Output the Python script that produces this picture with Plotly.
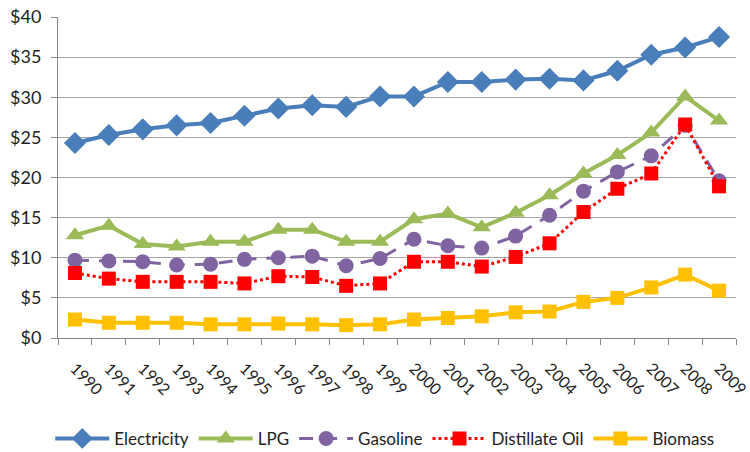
import plotly.graph_objects as go

years = [str(y) for y in range(1990, 2010)]
electricity = [24.3, 25.3, 26.0, 26.5, 26.8, 27.7, 28.6, 29.0, 28.8, 30.1, 30.1, 31.9, 31.9, 32.2, 32.3, 32.1, 33.3, 35.3, 36.2, 37.5]
lpg = [12.8, 14.0, 11.7, 11.4, 12.0, 12.0, 13.5, 13.5, 12.0, 12.0, 14.8, 15.5, 13.8, 15.6, 17.8, 20.5, 22.8, 25.6, 30.1, 27.1]
gasoline = [9.7, 9.6, 9.5, 9.1, 9.2, 9.8, 10.0, 10.2, 9.0, 9.9, 12.3, 11.5, 11.2, 12.7, 15.3, 18.3, 20.7, 22.7, 26.5, 19.6]
distillate = [8.1, 7.4, 7.0, 7.0, 7.0, 6.8, 7.7, 7.6, 6.5, 6.8, 9.5, 9.5, 8.9, 10.1, 11.8, 15.7, 18.6, 20.5, 26.6, 18.9]
biomass = [2.3, 1.9, 1.9, 1.9, 1.7, 1.7, 1.8, 1.7, 1.6, 1.7, 2.3, 2.5, 2.7, 3.2, 3.3, 4.5, 5.0, 6.3, 7.9, 5.9]
y_ticks = [0, 5, 10, 15, 20, 25, 30, 35, 40]
y_labels = ["$" + str(v) for v in y_ticks]

FONT = "Lato"
fig = go.Figure()
fig.add_trace(go.Scatter(x=years, y=electricity, name="Electricity", mode="lines+markers",
                         line=dict(color="#4A7EBB", width=4),
                         marker=dict(symbol="diamond", size=17, color="#4A7EBB")))
fig.add_trace(go.Scatter(x=years, y=lpg, name="LPG", mode="lines+markers",
                         line=dict(color="#9BBB59", width=4),
                         marker=dict(symbol="triangle-up", size=16, color="#9BBB59")))
fig.add_trace(go.Scatter(x=years, y=gasoline, name="Gasoline", mode="lines+markers",
                         line=dict(color="#8064A2", width=3, dash="14px,10px"),
                         marker=dict(symbol="circle", size=15, color="#8064A2")))
fig.add_trace(go.Scatter(x=years, y=distillate, name="Distillate Oil", mode="lines+markers",
                         line=dict(color="#FF0000", width=3, dash="dot"),
                         marker=dict(symbol="square", size=14, color="#FF0000")))
fig.add_trace(go.Scatter(x=years, y=biomass, name="Biomass", mode="lines+markers",
                         line=dict(color="#FFC000", width=4),
                         marker=dict(symbol="square", size=14, color="#FFC000")))

fig.update_layout(
    width=750, height=452,
    margin=dict(l=58, r=14, t=17, b=114, autoexpand=False),
    paper_bgcolor="white", plot_bgcolor="white",
    font=dict(family=FONT, size=17, color="#222222"),
    legend=dict(orientation="h", xref="container", yref="container",
                x=0.513, xanchor="center", y=0.029, yanchor="middle",
                font=dict(size=17, family=FONT), itemwidth=54, tracegroupgap=0),
    showlegend=True,
)
fig.update_xaxes(type="category", tickson="boundaries", ticks="outside", ticklen=6,
                 tickcolor="#888888", showline=True, linecolor="#888888", linewidth=1,
                 showgrid=False, tickangle=45, tickfont=dict(size=16, family=FONT),
                 ticklabelstandoff=14, range=[-0.5, 19.5], automargin=False)
fig.update_yaxes(range=[0, 40], tickvals=y_ticks, ticktext=y_labels, ticks="outside", ticklen=6,
                 tickcolor="#888888", showline=True, linecolor="#888888", linewidth=1,
                 showgrid=True, gridcolor="#A6A6A6", gridwidth=1, zeroline=False,
                 tickfont=dict(size=18, family=FONT), ticklabelstandoff=6, automargin=False)

fig.write_html("out.html", config={"displayModeBar": False},
               post_script="document.body.style.margin='0';")
